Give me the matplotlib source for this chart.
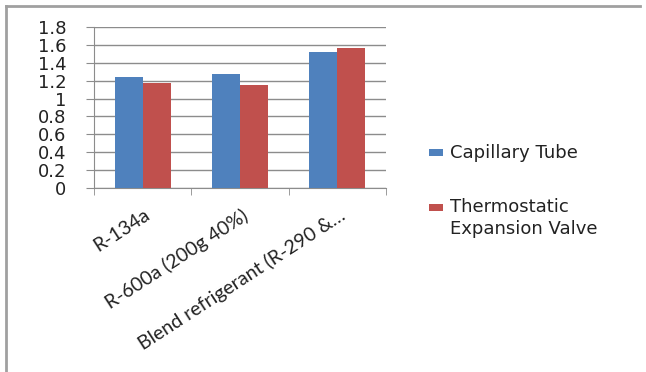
import matplotlib
matplotlib.use("Agg")
import matplotlib.pyplot as plt
import matplotlib.transforms as mtransforms
from matplotlib.patches import Rectangle
from matplotlib.lines import Line2D
import numpy as np

categories = ["R-134a", "R-600a (200g 40%)", "Blend refrigerant (R-290 &\u2026"]
series_names = ["Capillary Tube", "Thermostatic\nExpansion Valve"]
capillary = [1.24, 1.27, 1.52]
txv = [1.17, 1.15, 1.56]
yticks = [0, 0.2, 0.4, 0.6, 0.8, 1, 1.2, 1.4, 1.6, 1.8]
ytick_labels = ["0", "0.2", "0.4", "0.6", "0.8", "1", "1.2", "1.4", "1.6", "1.8"]

blue = "#4F81BD"
red = "#C0504D"
grid_col = "#8C8C8C"

W, H = 646, 372
fig = plt.figure(figsize=(W / 100, H / 100), dpi=100)
fig.patch.set_facecolor("white")

# outer chart border (left and top edges visible)
fig.add_artist(Line2D([6 / W, 6 / W], [0, 1 - 6 / H], color="#A0A0A0", lw=2))
fig.add_artist(Line2D([6 / W, 640 / W], [1 - 6 / H, 1 - 6 / H], color="#A0A0A0", lw=2))

ax = fig.add_axes([94 / W, 1 - 188 / H, 292 / W, 161 / H])

x = np.arange(len(categories))
bw = 0.288
ax.bar(x - bw / 2, capillary, bw, color=blue, label=series_names[0], zorder=3)
ax.bar(x + bw / 2, txv, bw, color=red, label=series_names[1], zorder=3)

ax.set_xlim(-0.5, len(categories) - 0.5)
ax.set_ylim(0, 1.8)
ax.set_yticks(yticks)
ax.set_yticklabels(ytick_labels, fontsize=13, family="DejaVu Sans", color="#222222")
ax.yaxis.grid(True, color=grid_col, lw=1, zorder=0)
ax.tick_params(axis="y", length=6, color=grid_col, pad=14)

for s in ["top", "right"]:
    ax.spines[s].set_visible(False)
for s in ["left", "bottom"]:
    ax.spines[s].set_color(grid_col)

ax.set_xticks(x)
ax.set_xticklabels([])
ax.tick_params(axis="x", which="major", length=0)
ax.set_xticks(np.arange(len(categories) + 1) - 0.5, minor=True)
ax.tick_params(axis="x", which="minor", length=5, color=grid_col)

# rotated category labels, right end anchored under each category
offset = mtransforms.ScaledTranslation(1 / 100, -18 / 100, fig.dpi_scale_trans)
trans = mtransforms.blended_transform_factory(ax.transData, ax.transAxes) + offset
for xi, lab in zip(x, categories):
    ax.text(xi, 0, lab, transform=trans, rotation=33, rotation_mode="anchor",
            ha="right", va="top", fontsize=14, family="Lato", color="#222222")

# legend
leg_items = [(blue, series_names[0], 153), (red, series_names[1], 207)]
for col, lab, yc in leg_items:
    fig.add_artist(Rectangle((429 / W, 1 - (yc + 3.5) / H), 14 / W, 7 / H,
                             facecolor=col, edgecolor="none", transform=fig.transFigure))
    fig.text(450 / W, 1 - (yc - 9) / H, lab, fontsize=13, family="DejaVu Sans",
             color="#222222", ha="left", va="top", linespacing=1.25)

fig.savefig("out.png", dpi=100)
